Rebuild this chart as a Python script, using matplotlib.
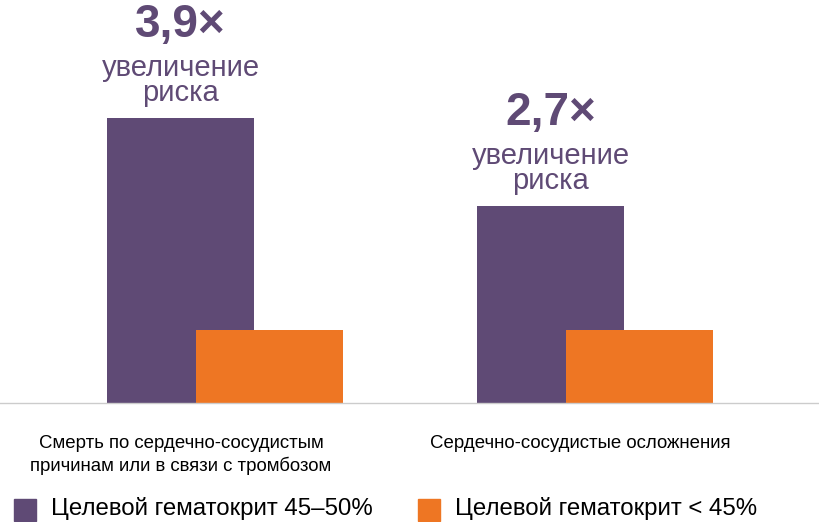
import matplotlib.pyplot as plt
from matplotlib.patches import Rectangle

plt.rcParams["font.family"] = "Liberation Sans"

categories = ["Смерть по сердечно-сосудистым\nпричинам или в связи с тромбозом",
              "Сердечно-сосудистые осложнения"]
high_target = [3.9, 2.7]   # Целевой гематокрит 45–50%
low_target = [1.0, 1.0]    # Целевой гематокрит < 45%
labels = ["3,9×", "2,7×"]
series_names = ["Целевой гематокрит 45–50%", "Целевой гематокрит < 45%"]

purple = "#5f4a75"
orange = "#ee7623"

fig = plt.figure(figsize=(8.2, 5.22), dpi=100)
ax = fig.add_axes([0, 119 / 522, 1, 403 / 522])
ax.set_xlim(-225 / 370, 595 / 370)
ax.set_ylim(0, 403 / 73)
ax.axis("off")

w = 147 / 370
off = 44.5 / 370
for i in range(len(categories)):
    ax.bar(i - off, high_target[i], width=w, color=purple)
    ax.bar(i + off, low_target[i], width=w, color=orange)
    ax.annotate(labels[i], (i - off, high_target[i]), xytext=(0, 51),
                textcoords="offset points", ha="center", va="bottom",
                fontsize=33, fontweight="bold", color=purple, clip_on=False)
    ax.annotate("увеличение\nриска", (i - off, high_target[i]), xytext=(0, 8),
                textcoords="offset points", ha="center", va="bottom",
                fontsize=21, color=purple, linespacing=0.85)

fig.add_artist(plt.Line2D([0, 1], [119 / 522, 119 / 522], color="#cccccc", lw=1))

fig.text(181 / 820, 1 - 455 / 522, categories[0], ha="center", va="center",
         fontsize=13.4, linespacing=1.3)
fig.text(580 / 820, 1 - 443 / 522, categories[1], ha="center", va="center",
         fontsize=13.4)

for x0, col, name in [(14, purple, series_names[0]), (418, orange, series_names[1])]:
    fig.add_artist(Rectangle((x0 / 820, 1 - 521 / 522), 22 / 820, 22 / 522,
                             color=col, transform=fig.transFigure))
    fig.text((x0 + 37) / 820, 1 - 509 / 522, name, ha="left", va="center", fontsize=17.3)

fig.savefig("out.png", dpi=100)
